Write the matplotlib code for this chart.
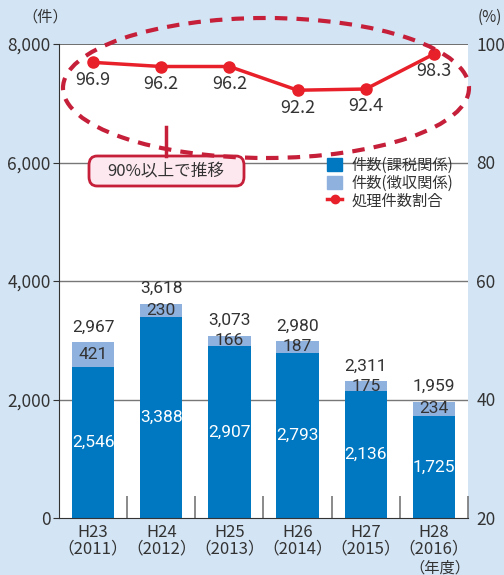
import matplotlib
matplotlib.use("Agg")
import matplotlib.pyplot as plt
from matplotlib.patches import Ellipse, FancyBboxPatch
from matplotlib.lines import Line2D
from matplotlib.patches import Patch
import numpy as np

plt.rcParams['font.family'] = ['Noto Sans CJK JP', 'DejaVu Sans']

categories = ["H23\n（2011）", "H24\n（2012）", "H25\n（2013）", "H26\n（2014）", "H27\n（2015）", "H28\n（2016）"]
kazei = [2546, 3388, 2907, 2793, 2136, 1725]
choshu = [421, 230, 166, 187, 175, 234]
totals = [2967, 3618, 3073, 2980, 2311, 1959]
ratio = [96.9, 96.2, 96.2, 92.2, 92.4, 98.3]
left_ticks = [0, 2000, 4000, 6000, 8000]
right_ticks = [20, 40, 60, 80, 100]

BG = "#d3e4f4"
DARK = "#0078c1"
LIGHT = "#8fb1de"
RED = "#e8202a"
ERED = "#c51f3a"
TXT = "#333333"

fig = plt.figure(figsize=(5.04, 5.75), dpi=100, facecolor=BG)
ax = fig.add_axes([59/504, 1-518/575, 409/504, 474/575])
ax.set_facecolor("white")
x = np.arange(len(categories))
bw = 0.62
ax.bar(x, kazei, bw, color=DARK, zorder=2)
ax.bar(x, choshu, bw, bottom=kazei, color=LIGHT, zorder=2)
ax.set_xlim(-0.5, len(categories)-0.5)
ax.set_ylim(0, 8000)
ax.set_yticks(left_ticks)
ax.set_yticklabels([f"{v:,}" for v in left_ticks], fontsize=12.5, color=TXT)
for v in [2000, 4000, 6000]:
    ax.axhline(v, color="#777777", lw=1, zorder=1)
ax.axhline(8000, color="#555555", lw=1.2, zorder=1)
ax.set_xticks(x)
ax.set_xticklabels(categories, fontsize=12, color=TXT, linespacing=1.0)
ax.tick_params(axis='x', length=0, pad=4)
ax.set_xticks(np.arange(0.5, len(categories)+0.5, 1), minor=True)
ax.tick_params(axis='x', which='minor', direction='in', length=16, color="#777777", width=1.2)
ax.tick_params(axis='y', length=4, color="#333333", pad=2)
for s in ['top', 'right']:
    ax.spines[s].set_visible(False)
ax.spines['left'].set_color("#333333")
ax.spines['bottom'].set_color("#333333")

nf = ['Roboto', 'DejaVu Sans']
for i in range(len(categories)):
    ax.text(x[i], kazei[i]/2, f"{kazei[i]:,}", ha='center', va='center', color='white', fontsize=12.5, family=nf, zorder=3)
    ax.text(x[i], kazei[i]+choshu[i]/2, f"{choshu[i]:,}", ha='center', va='center', color=TXT, fontsize=12.5, family=nf, zorder=3)
    ax.text(x[i], totals[i]+130, f"{totals[i]:,}", ha='center', va='bottom', color=TXT, fontsize=12.5, family=nf, zorder=3)

ax2 = ax.twinx()
ax2.set_ylim(20, 100)
ax2.set_yticks(right_ticks)
ax2.set_yticklabels([str(v) for v in right_ticks], fontsize=12.5, color=TXT)
ax2.tick_params(axis='y', length=0, pad=6)
for s in ax2.spines.values():
    s.set_visible(False)
ax2.plot(x, ratio, color=RED, lw=2.5, marker='o', ms=8, zorder=5)
for i in range(len(categories)):
    ax2.text(x[i], ratio[i]-1.4, f"{ratio[i]}", ha='center', va='top', fontsize=13, color=TXT)

fig.text(45/504, 1-17/575, "（件）", ha='center', va='center', fontsize=11, color=TXT)
fig.text(502/504, 1-17/575, "(%)", ha='right', va='center', fontsize=11, color=TXT)
fig.text(440/504, 1-568/575, "（年度）", ha='center', va='center', fontsize=11, color=TXT)

# ellipse (figure pixel coordinates)
W, H = 504, 575
el = Ellipse((266/W, 1-88/H), 406/W, 140/H, transform=fig.transFigure, fill=False,
             edgecolor=ERED, lw=3, linestyle=(0, (3, 2.2)), zorder=6)
fig.patches.append(el)
fig.add_artist(Line2D([166/W, 166/W], [1-127/H, 1-156/H], transform=fig.transFigure, color=ERED, lw=2.5))
box = FancyBboxPatch((89/W, 1-186/H), 155/W, 30/H, boxstyle="round,pad=0,rounding_size=0.016",
                     transform=fig.transFigure, facecolor="#fde8ef", edgecolor=ERED, lw=2)
fig.add_artist(box)
fig.text(166/W, 1-171/H, "90%以上で推移", ha='center', va='center', fontsize=12, color=TXT)

handles = [Patch(color=DARK), Patch(color=LIGHT), Line2D([], [], color=RED, lw=2.5, marker='o', ms=6)]
labels = ["件数(課税関係)", "件数(徴収関係)", "処理件数割合"]
leg = ax2.legend(handles, labels, loc='upper left', bbox_to_anchor=(0.64, 0.775), frameon=False,
                 fontsize=11, handlelength=1.0, handleheight=0.9, handletextpad=0.6, labelspacing=0.05, borderaxespad=0)
for t in leg.get_texts():
    t.set_color(TXT)

fig.savefig("out.png", dpi=100, facecolor=BG)
